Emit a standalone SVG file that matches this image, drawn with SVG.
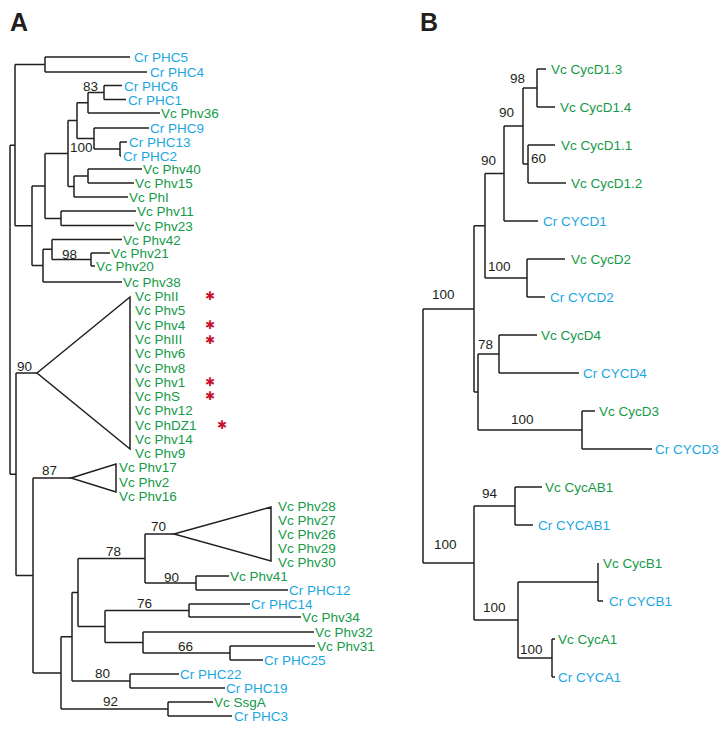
<svg xmlns="http://www.w3.org/2000/svg" width="727" height="733" viewBox="0 0 727 733">
<style>
.e{fill:none;stroke:#231f20;stroke-width:1.5}
.t{fill:none;stroke:#231f20;stroke-width:1.5;stroke-linejoin:miter}
text{font-family:"Liberation Sans",Arial,sans-serif;font-size:13.5px}
.g{fill:#149a48}
.c{fill:#1ba7e1}
.n{fill:#231f20}
.p{font-weight:bold;font-size:25px;fill:#231f20}
.s{font-family:"DejaVu Sans",sans-serif;font-size:12px;fill:#c8102e;text-anchor:middle}
</style>
<rect width="727" height="733" fill="#ffffff"/>
<text class="p" x="10" y="31">A</text>
<text class="p" x="420" y="31">B</text>
<g id="connectors">
<path class="e" d="M10,145.2V474.2M10,145.2H15M10,474.2H16
M15,64.5V225.8M15,64.5H45M15,225.8H32
M45,57V72M45,57H130M45,72H147
M32,186V265.6M32,186H45M32,265.6H43
M45,153.6V218.5M45,153.6H68M45,218.5H61
M68,120.6V186.5M68,120.6H77M68,186.5H74
M77,102.75V138.5M77,102.75H88M77,138.5H94
M88,92.5V113M88,92.5H104M88,113H160
M104,85.5V99.5M104,85.5H122M104,99.5H126
M94,128V149M94,128H149M94,149H120
M120,142V156M120,142H127M120,156H121
M74,176V197M74,176H88M74,197H128
M88,169V183M88,169H142M88,183H134
M61,211V225.5M61,211H136M61,225.5H134
M43,249.3V282M43,249.3H52M43,282H122
M52,239.5V259.5M52,239.5H122M52,259.5H91
M91,253V266M91,253H110M91,266H95
M16,373V575.5M16,373H37M16,575.5H33
M33,478V672.9M33,478H71M33,672.9H61
M61,636.75V709M61,636.75H72M61,709H168
M72,592.5V681M72,592.5H78M72,681H130
M78,558.5V626.5M78,558.5H145M78,626.5H105
M145,534V583M145,534H174M145,583H196
M196,576V590M196,576H229M196,590H288
M105,610.5V642.5M105,610.5H189M105,642.5H143
M189,604V617M189,604H250M189,617H301
M143,632V653M143,632H314M143,653H230
M230,646V660M230,646H315M230,660H263
M130,674V688M130,674H179M130,688H225
M168,702V716M168,702H213M168,716H232"/>
<path class="e" d="M423,308.9V563M423,308.9H474M423,563H474
M474,225.75V392M474,225.75H485M474,392H478
M485,173.5V278M485,173.5H504M485,278H527
M504,126V221M504,126H523M504,221H538
M523,88V164M523,88H537M523,164H528
M537,69V107M537,69H546M537,107H555
M528,145V183M528,145H555M528,183H566
M527,259V297M527,259H565M527,297H545
M478,354V430M478,354H499M478,430H582
M499,335V373M499,335H537M499,373H579
M582,411V449M582,411H595M582,449H652
M474,506V620M474,506H515M474,620H518
M515,487V525M515,487H542M515,525H533
M518,582V658M518,582H598M518,658H552
M598,563V601M598,601H603
M552,639V677M552,639H555M552,677H555"/>
</g>
<g id="support-A">
<text class="n" x="83" y="91">83</text>
<text class="n" x="70" y="152">100</text>
<text class="n" x="62" y="259">98</text>
<text class="n" x="17" y="371">90</text>
<text class="n" x="42" y="475">87</text>
<text class="n" x="151" y="531">70</text>
<text class="n" x="106" y="556">78</text>
<text class="n" x="164" y="582">90</text>
<text class="n" x="137" y="608">76</text>
<text class="n" x="178" y="651">66</text>
<text class="n" x="95" y="678">80</text>
<text class="n" x="103" y="706">92</text>
</g>
<g id="PHC5"><text class="c" x="134" y="62">Cr PHC5</text></g>
<g id="PHC4"><text class="c" x="150" y="77">Cr PHC4</text></g>
<g id="PHC6"><text class="c" x="124" y="90.5">Cr PHC6</text></g>
<g id="PHC1"><text class="c" x="128" y="104.5">Cr PHC1</text></g>
<g id="Phv36"><text class="g" x="161" y="118">Vc Phv36</text></g>
<g id="PHC9"><text class="c" x="150" y="133">Cr PHC9</text></g>
<g id="PHC13"><text class="c" x="129" y="147">Cr PHC13</text></g>
<g id="PHC2"><text class="c" x="123" y="161">Cr PHC2</text></g>
<g id="Phv40"><text class="g" x="143" y="174">Vc Phv40</text></g>
<g id="Phv15"><text class="g" x="135" y="188">Vc Phv15</text></g>
<g id="PhI"><text class="g" x="129" y="202">Vc PhI</text></g>
<g id="Phv11"><text class="g" x="137" y="216">Vc Phv11</text></g>
<g id="Phv23"><text class="g" x="135" y="230.5">Vc Phv23</text></g>
<g id="Phv42"><text class="g" x="123" y="244.5">Vc Phv42</text></g>
<g id="Phv21"><text class="g" x="111" y="258">Vc Phv21</text></g>
<g id="Phv20"><text class="g" x="96" y="271">Vc Phv20</text></g>
<g id="Phv38"><text class="g" x="123" y="287">Vc Phv38</text></g>
<g id="clade90">
<polygon class="t" points="37,373 130,297 130,449"/>
<text class="g" x="135" y="301">Vc PhII</text>
<text class="g" x="135" y="315.3">Vc Phv5</text>
<text class="g" x="135" y="329.6">Vc Phv4</text>
<text class="g" x="135" y="343.9">Vc PhIII</text>
<text class="g" x="135" y="358.2">Vc Phv6</text>
<text class="g" x="135" y="372.5">Vc Phv8</text>
<text class="g" x="135" y="386.8">Vc Phv1</text>
<text class="g" x="135" y="401.1">Vc PhS</text>
<text class="g" x="135" y="415.4">Vc Phv12</text>
<text class="g" x="135" y="429.7">Vc PhDZ1</text>
<text class="g" x="135" y="444">Vc Phv14</text>
<text class="g" x="135" y="458.3">Vc Phv9</text>
</g>
<g id="asterisks">
<text class="s" x="210" y="300">✱</text>
<text class="s" x="210" y="329">✱</text>
<text class="s" x="210" y="344">✱</text>
<text class="s" x="210" y="386">✱</text>
<text class="s" x="210" y="400">✱</text>
<text class="s" x="222" y="429">✱</text>
</g>
<g id="clade87">
<polygon class="t" points="71,478 116,464 116,492"/>
<text class="g" x="119" y="472">Vc Phv17</text>
<text class="g" x="119" y="486.5">Vc Phv2</text>
<text class="g" x="119" y="501">Vc Phv16</text>
</g>
<g id="clade70">
<polygon class="t" points="174,534 271,507 271,561"/>
<text class="g" x="278" y="511">Vc Phv28</text>
<text class="g" x="278" y="525">Vc Phv27</text>
<text class="g" x="278" y="539">Vc Phv26</text>
<text class="g" x="278" y="553">Vc Phv29</text>
<text class="g" x="278" y="567">Vc Phv30</text>
</g>
<g id="Phv41"><text class="g" x="230" y="581">Vc Phv41</text></g>
<g id="PHC12"><text class="c" x="289" y="595">Cr PHC12</text></g>
<g id="PHC14"><text class="c" x="251" y="609">Cr PHC14</text></g>
<g id="Phv34"><text class="g" x="302" y="622">Vc Phv34</text></g>
<g id="Phv32"><text class="g" x="315" y="637">Vc Phv32</text></g>
<g id="Phv31"><text class="g" x="317" y="651">Vc Phv31</text></g>
<g id="PHC25"><text class="c" x="264" y="665">Cr PHC25</text></g>
<g id="PHC22"><text class="c" x="180" y="679">Cr PHC22</text></g>
<g id="PHC19"><text class="c" x="226" y="693">Cr PHC19</text></g>
<g id="SsgA"><text class="g" x="214" y="707">Vc SsgA</text></g>
<g id="PHC3"><text class="c" x="234" y="721">Cr PHC3</text></g>
<g id="support-B">
<text class="n" x="510" y="83">98</text>
<text class="n" x="499" y="117">90</text>
<text class="n" x="531" y="163">60</text>
<text class="n" x="481" y="165">90</text>
<text class="n" x="488" y="271">100</text>
<text class="n" x="432" y="299">100</text>
<text class="n" x="478" y="349">78</text>
<text class="n" x="511" y="424">100</text>
<text class="n" x="482" y="498">94</text>
<text class="n" x="434" y="549">100</text>
<text class="n" x="483" y="612">100</text>
<text class="n" x="520" y="654">100</text>
</g>
<g id="CycD1.3"><text class="g" x="551" y="74">Vc CycD1.3</text></g>
<g id="CycD1.4"><text class="g" x="560" y="112">Vc CycD1.4</text></g>
<g id="CycD1.1"><text class="g" x="561" y="150">Vc CycD1.1</text></g>
<g id="CycD1.2"><text class="g" x="571" y="188">Vc CycD1.2</text></g>
<g id="CYCD1"><text class="c" x="543" y="226">Cr CYCD1</text></g>
<g id="CycD2"><text class="g" x="571" y="264">Vc CycD2</text></g>
<g id="CYCD2"><text class="c" x="550" y="302">Cr CYCD2</text></g>
<g id="CycD4"><text class="g" x="541" y="340">Vc CycD4</text></g>
<g id="CYCD4"><text class="c" x="583" y="378">Cr CYCD4</text></g>
<g id="CycD3"><text class="g" x="599" y="416">Vc CycD3</text></g>
<g id="CYCD3"><text class="c" x="655" y="454">Cr CYCD3</text></g>
<g id="CycAB1"><text class="g" x="545" y="492">Vc CycAB1</text></g>
<g id="CYCAB1"><text class="c" x="538" y="530">Cr CYCAB1</text></g>
<g id="CycB1"><text class="g" x="603" y="568">Vc CycB1</text></g>
<g id="CYCB1"><text class="c" x="609" y="606">Cr CYCB1</text></g>
<g id="CycA1"><text class="g" x="558" y="644">Vc CycA1</text></g>
<g id="CYCA1"><text class="c" x="558" y="682">Cr CYCA1</text></g>
</svg>
